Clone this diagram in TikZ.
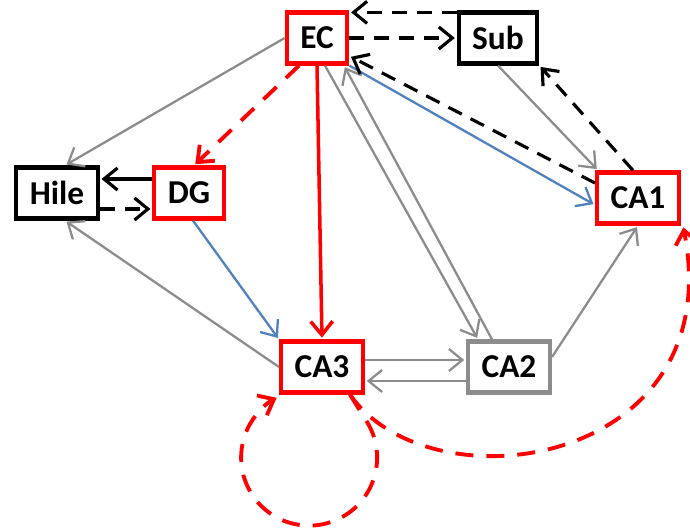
\documentclass[tikz,border=0pt]{standalone}
\usepackage{fontspec}
\setmainfont{Carlito}
\usepackage{tikz}
\usetikzlibrary{arrows.meta}

\definecolor{edgegray}{RGB}{140,140,140}
\definecolor{edgeblue}{RGB}{79,129,189}

\begin{document}
\begin{tikzpicture}[->,>={Straight Barb[length=2.7mm,width=4.4mm]},shorten >=1pt,
                    box/.style={rectangle,draw,line width=2.4pt,minimum height=1.02cm,inner xsep=0.27cm,font=\fontsize{19}{21}\selectfont\bfseries},
                    red node/.style={box,draw=red},
                    black node/.style={box,draw=black},
                    gray node/.style={box,draw=edgegray},
                    gray edge/.style={draw=edgegray,line width=1.3pt},
                    blue edge/.style={draw=edgeblue,line width=1.3pt},
                    red edge/.style={draw=red,line width=2pt},
                    red dashed edge/.style={draw=red,line width=2.2pt,dash pattern=on 3.6mm off 2.6mm},
                    black edge/.style={draw=black,line width=1.8pt},
                    black dashed edge/.style={draw=black,line width=1.8pt,dash pattern=on 3mm off 2mm}]
\useasboundingbox (0,0) rectangle (13.8,-10.6);

\node[red node] (ec) at (6.34,-0.76) {EC};
\node[black node] (sub) [right of=ec,node distance=3.62cm] {Sub};
\node[black node] (hile) at (1.14,-3.86) {Hile};
\node[red node] (dg) [right of=hile,node distance=2.64cm] {DG};
\node[red node] (ca1) at (12.76,-3.96) {CA1};
\node[red node] (ca3) at (6.44,-7.34) {CA3};
\node[gray node] (ca2) [right of=ca3,node distance=3.74cm] {CA2};

% gray projections
\path (ec.west) edge[gray edge] ([xshift=0.16cm]hile.north)
      (ca3.west) edge[gray edge] ([xshift=0.16cm]hile.south)
      ([xshift=0.16cm]ec.south) edge[gray edge] ([xshift=-0.62cm]ca2.north)
      ([xshift=-0.34cm]ca2.north) edge[gray edge] ([xshift=0.54cm]ec.south)
      (sub.south) edge[gray edge] ([xshift=-0.8cm]ca1.north)
      ([yshift=0.2cm]ca2.east) edge[gray edge] (ca1.south)
      ([yshift=0.14cm]ca3.east) edge[gray edge] ([yshift=0.14cm]ca2.west)
      ([yshift=-0.28cm]ca2.west) edge[gray edge] ([yshift=-0.28cm]ca3.east);

% blue and red
\path (ec.south east) edge[blue edge] ([yshift=-0.14cm]ca1.west)
      ([xshift=0.08cm]dg.south) edge[blue edge] (ca3.north west)
      (ec.south) edge[red edge] (ca3.north)
      ([xshift=-0.36cm]ec.south) edge[red dashed edge] ([xshift=0.1cm]dg.north);

% black
\path ([yshift=0.28cm]dg.west) edge[black edge] ([yshift=0.28cm]hile.east)
      ([yshift=-0.32cm]hile.east) edge[black dashed edge] ([yshift=-0.32cm]dg.west)
      (ec.east) edge[black dashed edge] (sub.west)
      ([yshift=-0.04cm]sub.north west) edge[black dashed edge] ([yshift=-0.04cm]ec.north east)
      ([yshift=0.3cm]ca1.west) edge[black dashed edge] ([yshift=-0.36cm]ec.east)
      ([xshift=-0.1cm]ca1.north) edge[black dashed edge] (sub.south east);

% CA3 recurrent and back to CA1
\draw[red dashed edge] ([xshift=0.56cm]ca3.south) .. controls +(1.6,-2.3) and +(0.94,-4.84) .. ([xshift=0.9cm]ca1.south);
\draw[red dashed edge] ([xshift=0.56cm]ca3.south) -- ++(0.36,-0.58) arc[start angle=30,end angle=-243,radius=1.36cm];
\end{tikzpicture}
\end{document}
